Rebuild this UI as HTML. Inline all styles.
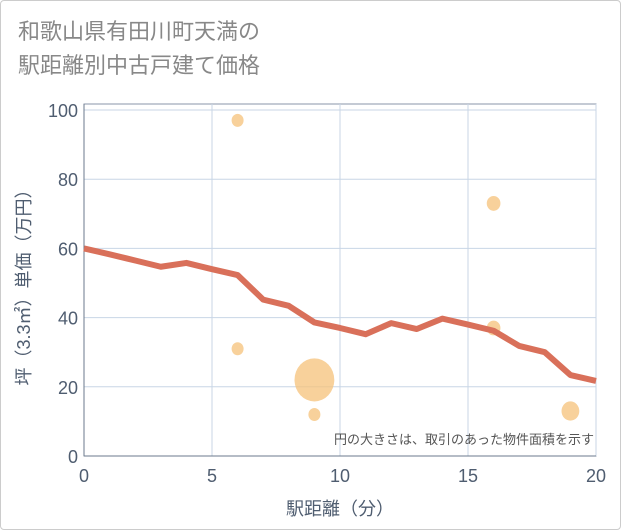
<!DOCTYPE html>
<html><head><meta charset="utf-8"><style>
body{margin:0;background:#fff;font-family:"Liberation Sans","Noto Sans CJK JP",sans-serif}
#w{position:relative;width:619px;height:528px;border:1px solid #ccc;border-radius:4px;overflow:hidden}
.t{position:absolute;left:17px;font-size:22px;color:#888;line-height:34px}
</style></head><body>
<div id="w">
<div class="t" style="top:14px">和歌山県有田川町天満の<br>駅距離別中古戸建て価格</div>
<svg id="c" width="621" height="530" style="position:absolute;left:-1px;top:-1px"></svg>
</div>
<script>
const xTicks=[0,5,10,15,20];
const yTicks=[0,20,40,60,80,100];
const lineX=[0,1,2,3,4,5,6,7,8,9,10,11,12,13,14,15,16,17,18,19,20];
const lineY=[60,58.3,56.5,54.7,55.8,54,52.3,45.2,43.4,38.6,37,35.2,38.4,36.7,39.7,38,36.2,31.8,30,23.4,21.7];
const bubX=[6,6,9,9,16,16,19];
const bubY=[97,31,22,12,73,37,13];
const bubSize=[1,1,11,1,1.3,1.3,2.2];
const L=84,R=596,T=104,B=456;
const sx=v=>L+(R-L)*v/20, sy=v=>B-(B-110)*v/100;
const s=document.getElementById('c'),NS='http://www.w3.org/2000/svg';
const TC='#4f5d70';
function el(t,a,txt){const e=document.createElementNS(NS,t);for(const k in a)e.setAttribute(k,a[k]);if(txt!=null)e.textContent=txt;s.appendChild(e);return e;}
let e=el('rect',{x:L,y:T,width:R-L,height:B-T,fill:'#fff',stroke:'#8a96a8','stroke-width':1});

xTicks.forEach(v=>{let g=el('line',{x1:sx(v),x2:sx(v),y1:T,y2:B,stroke:'#c8d6e6'});

let t=el('text',{x:sx(v),y:482,'text-anchor':'middle','font-size':18,fill:TC},v);
});
yTicks.forEach(v=>{let g=el('line',{x1:L,x2:R,y1:sy(v),y2:sy(v),stroke:'#c8d6e6'});

let t=el('text',{x:78,y:sy(v)+7,'text-anchor':'end','font-size':18,fill:TC},v);
});
let ax=el('line',{x1:L,x2:L,y1:T,y2:B,stroke:'#6b7a8c'});
let ax2=el('line',{x1:L,x2:R,y1:B,y2:B,stroke:'#6b7a8c'});
bubX.forEach((x,i)=>{let c=el('ellipse',{cx:sx(x),cy:sy(bubY[i]),rx:6*Math.sqrt(bubSize[i]),ry:6.5*Math.sqrt(bubSize[i]),fill:'#f5c27a','fill-opacity':0.75});
});
let p=el('polyline',{points:lineX.map((x,i)=>sx(x)+','+sy(lineY[i])).join(' '),fill:'none',stroke:'#d9705a','stroke-width':6,'stroke-linejoin':'round'});

let n=el('text',{x:594,y:444,'text-anchor':'end','font-size':13,fill:'#555'},'円の大きさは、取引のあった物件面積を示す');

let xt=el('text',{x:340,y:515,'text-anchor':'middle','font-size':18,fill:TC},'駅距離（分）');

let yt=el('text',{x:0,y:0,'text-anchor':'middle','font-size':18,fill:TC,transform:'translate(30,283) rotate(-90)'},'坪（3.3㎡）単価（万円）');

</script>
</body></html>
